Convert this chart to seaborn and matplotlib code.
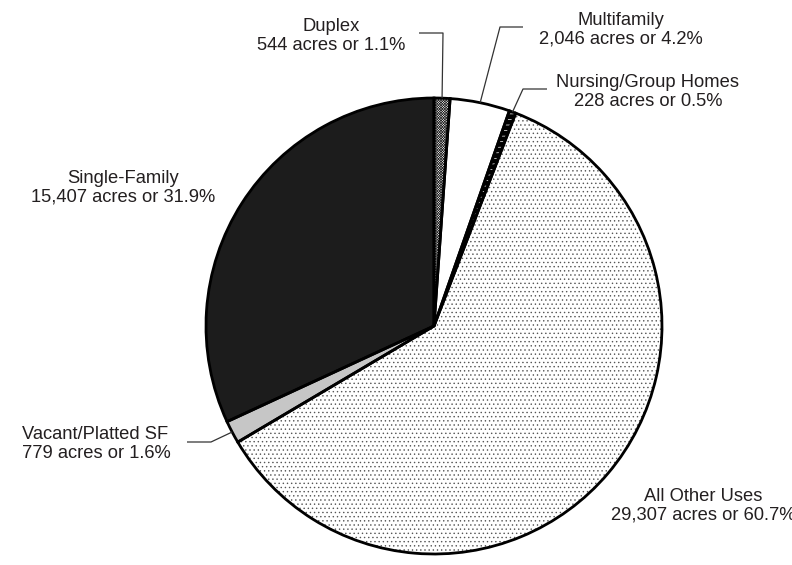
import numpy as np
import matplotlib
matplotlib.use("Agg")
import matplotlib.pyplot as plt
import seaborn as sns

# === data ===
categories = ["Duplex", "Multifamily", "Nursing/Group Homes", "All Other Uses",
              "Vacant/Platted SF", "Single-Family"]
acres = [544, 2046, 228, 29307, 779, 15407]
percents = [1.1, 4.2, 0.5, 60.7, 1.6, 31.9]

# === style ===
sns.set_theme(style="white")
plt.rcParams["font.family"] = ["Liberation Sans", "DejaVu Sans"]
plt.rcParams["hatch.linewidth"] = 0.5

W, H = 792, 565
CX, CY, R = 434, 326, 228          # pie centre / radius in pixels (top-left origin)
TXT = "#231f20"

face = ["white", "white", "black", "white", "#c6c6c6", "#1c1c1c"]
hatch = ["x" * 13, None, "---", "....", None, None]
hatch_col = ["#222222", None, "white", "#555555", None, None]

# label layout: (x px, baseline of last line px, ha)
label_pos = {
    "Duplex": (331, 50, "center"),
    "Multifamily": (621, 44, "center"),
    "Nursing/Group Homes": (648, 106, "center"),
    "All Other Uses": (703, 520, "center"),
    "Vacant/Platted SF": (22, 458, "left"),
    "Single-Family": (123, 202, "center"),
}
# leader lines: elbow then end point in pixels
leaders = {
    "Duplex": [(443, 33), (419, 33)],
    "Multifamily": [(500, 27), (523, 27)],
    "Nursing/Group Homes": [(523, 89), (547, 89)],
    "Vacant/Platted SF": [(211, 442), (187, 442)],
}


def px2d(px, py):
    return (px - CX) / R, (CY - py) / R


fig = plt.figure(figsize=(W / 100, H / 100), dpi=100)
ax = fig.add_axes([(CX - R) / W, (H - CY - R) / H, 2 * R / W, 2 * R / H])

# fills + hatches
wedges, _ = ax.pie(acres, startangle=90, counterclock=False, colors=face,
                   wedgeprops=dict(linewidth=0))
for w, h, hc in zip(wedges, hatch, hatch_col):
    if h:
        w.set_hatch(h)
        w.set_edgecolor(hc)
    w.set_clip_on(False)

# outlines
outl, _ = ax.pie(acres, startangle=90, counterclock=False, colors=["none"] * len(acres),
                 wedgeprops=dict(linewidth=2, edgecolor="black"))
for w in outl:
    w.set_clip_on(False)

ax.set_xlim(-1, 1)
ax.set_ylim(-1, 1)
ax.set_axis_off()

# labels and leader lines
for cat, a, p, w in zip(categories, acres, percents, wedges):
    x, y, ha = label_pos[cat]
    fig.text(x / W, 1 - y / H, f"{cat}\n{a:,} acres or {p}%", ha=ha, va="baseline",
             fontsize=13.2, color=TXT, linespacing=1.15)
    if cat in leaders:
        mid = np.deg2rad((w.theta1 + w.theta2) / 2)
        pts = [(np.cos(mid), np.sin(mid))] + [px2d(*q) for q in leaders[cat]]
        xs, ys = zip(*pts)
        ax.plot(xs, ys, color="#333333", lw=0.9, clip_on=False, solid_capstyle="butt")

fig.savefig("out.png", dpi=100)
